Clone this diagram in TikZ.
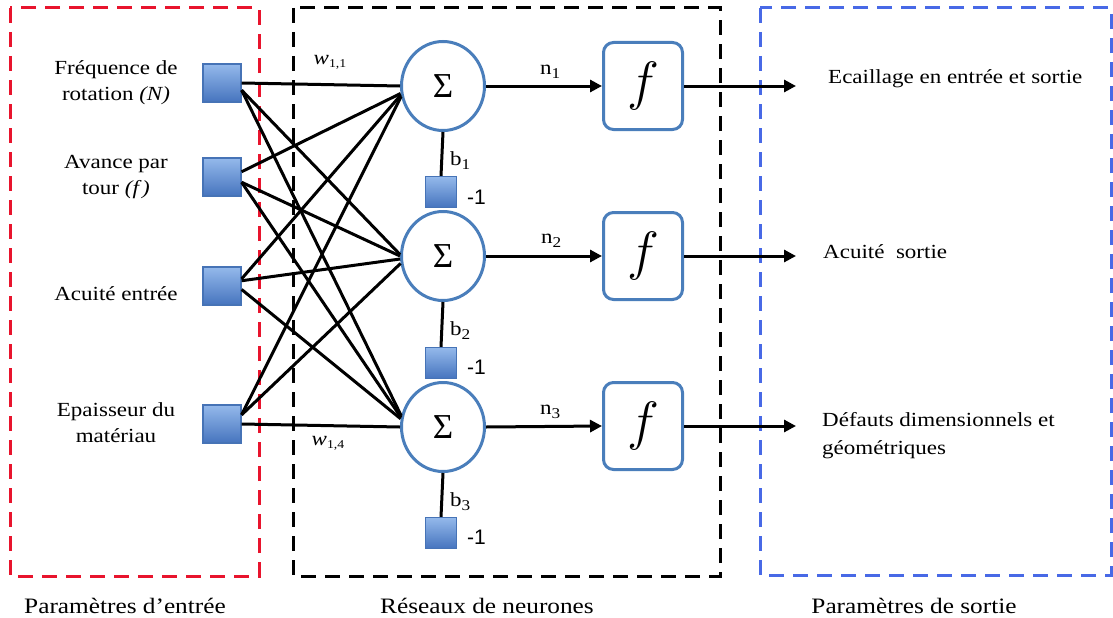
\RequirePackage{fix-cm}
\documentclass[tikz,border=0pt]{standalone}
\usepackage{fontspec}
\setmainfont{Liberation Serif}[FakeStretch=1.15]
\newfontfamily\sansf{Liberation Sans}
\newfontfamily\sigf{Liberation Serif}
\usetikzlibrary{shapes.geometric,arrows.meta}
\definecolor{nblue}{RGB}{74,126,187}
\definecolor{sqtop}{RGB}{148,185,235}
\definecolor{sqbot}{RGB}{70,116,190}
\definecolor{sqborder}{RGB}{70,115,182}
\definecolor{dred}{RGB}{232,20,45}
\definecolor{dblue}{RGB}{72,105,230}
\tikzset{
  boxdash/.style={line width=3pt, dash pattern=on 15pt off 9pt},
  insq/.style={rectangle, draw=sqborder, line width=1.2pt, top color=sqtop, bottom color=sqbot, minimum size=38pt, inner sep=0pt},
  bsq/.style={rectangle, draw=sqborder, line width=1.2pt, top color=sqtop, bottom color=sqbot, minimum size=31pt, inner sep=0pt},
  sumnode/.style={ellipse, draw=nblue, line width=3pt, fill=white, minimum width=83pt, minimum height=89pt, inner sep=0pt},
  fnode/.style={rectangle, rounded corners=10pt, draw=nblue, line width=3pt, fill=white, minimum width=79pt, minimum height=87pt, inner sep=0pt},
  wire/.style={line width=3pt, black},
  arr/.style={wire, -{Triangle[length=12pt,width=12pt]}},
  lbl/.style={font=\fontsize{20}{26}\selectfont, align=center, inner sep=0pt},
  olbl/.style={font=\fontsize{20}{28}\selectfont, align=left, anchor=west, inner sep=0pt},
  blbl/.style={font=\fontsize{22}{26}\selectfont, inner sep=0pt},
  sublbl/.style={font=\fontsize{20}{20}\selectfont, inner sep=0pt, anchor=west},
  mone/.style={font=\sansf\fontsize{21}{21}\selectfont, inner sep=0pt, anchor=west}
}
\newcommand{\bigsig}{\sigf\fontsize{35}{35}\selectfont Σ}
\newcommand{\bigf}{\fontsize{54}{54}\selectfont$f$}
\begin{document}
\begin{tikzpicture}[x=1pt,y=-1pt]
\useasboundingbox (0,0) rectangle (1113,618);
% dashed group boxes
\draw[dred, boxdash] (10,8) rectangle (259,576);
\draw[black, boxdash] (293,8) rectangle (720,576);
\draw[dblue, boxdash] (760,8) rectangle (1111,575);

% input squares
\node[insq] (s1) at (222,83) {};
\node[insq] (s2) at (222,177) {};
\node[insq] (s3) at (222,286) {};
\node[insq] (s4) at (222,424) {};

% summation nodes
\node[sumnode] (c1) at (443,86) {\bigsig};
\node[sumnode] (c2) at (443,256) {\bigsig};
\node[sumnode] (c3) at (443,427) {\bigsig};

% bias squares
\node[bsq] (b1) at (441,192) {};
\node[bsq] (b2) at (441,363) {};
\node[bsq] (b3) at (441,533) {};

% activation boxes
\node[fnode] (f1) at (643,86) {\bigf};
\node[fnode] (f2) at (643,256) {\bigf};
\node[fnode] (f3) at (643,426) {\bigf};

% outputs
\coordinate (o1) at (796,86);
\coordinate (o2) at (796,256);
\coordinate (o3) at (796,426);

% input labels
\node[lbl] (t1) at (116,83) {Fréquence de\\rotation \textit{(N)}};
\node[lbl] (t2) at (116,177) {Avance par\\tour \textit{(f\,)}};
\node[lbl] (t3) at (116,294) {Acuité entrée};
\node[lbl] (t4) at (116,423) {Epaisseur du\\matériau};

% output labels
\node[olbl] (u1) at (828,79) {Ecaillage en entrée et sortie};
\node[olbl] (u2) at (823,252) {Acuité\ \ sortie};
\node[olbl] (u3) at (822,436) {Défauts dimensionnels et\\géométriques};

% bottom labels
\node[blbl] (g1) at (125,606) {Paramètres d’entrée};
\node[blbl] (g2) at (487,606) {Réseaux de neurones};
\node[blbl] (g3) at (914,606) {Paramètres de sortie};

% weights labels
\node[inner sep=0pt] (w11) at (330,62) {\fontsize{20}{20}\selectfont\textit{w}\raisebox{-3pt}{\fontsize{12}{12}\selectfont 1,1}};
\node[inner sep=0pt] (w14) at (328,443) {\fontsize{20}{20}\selectfont\textit{w}\raisebox{-3pt}{\fontsize{12}{12}\selectfont 1,4}};

% connections input -> sum
\draw[wire] (s1.east) -- (c1.west);
\draw[wire] (s2.15) -- (c1.190);
\draw[wire] (s3.20) -- (c1.192);
\draw[wire] (s4.25) -- (c1.194);

\draw[wire] (s1.-20) -- (c2.178);
\draw[wire] (s2.-15) -- (c2.180);
\draw[wire] (s3.15) -- (c2.184);
\draw[wire] (s4.25) -- (c2.190);

\draw[wire] (s1.-20) -- (c3.165);
\draw[wire] (s2.-15) -- (c3.167);
\draw[wire] (s3.-10) -- (c3.169);
\draw[wire] (s4.east) -- (c3.west);

% bias connections
\draw[wire] (c1.south) -- (b1.north);
\draw[wire] (c2.south) -- (b2.north);
\draw[wire] (c3.south) -- (b3.north);

% bias labels
\node[sublbl] (lb1) at (450,161) {b\raisebox{-4pt}{\fontsize{15}{15}\selectfont 1}};
\node[sublbl] (lb2) at (450,331) {b\raisebox{-4pt}{\fontsize{15}{15}\selectfont 2}};
\node[sublbl] (lb3) at (450,502) {b\raisebox{-4pt}{\fontsize{15}{15}\selectfont 3}};
\node[mone] (m1) at (467,197) {-1};
\node[mone] (m2) at (467,367) {-1};
\node[mone] (m3) at (467,537) {-1};

% sum -> f
\draw[arr] (c1.east) -- (f1.west);
\draw[arr] (c2.east) -- (f2.west);
\draw[arr] (c3.east) -- (f3.west);
\node[sublbl] (n1) at (540,72) {n\raisebox{-4pt}{\fontsize{15}{15}\selectfont 1}};
\node[sublbl] (n2) at (541,241) {n\raisebox{-4pt}{\fontsize{15}{15}\selectfont 2}};
\node[sublbl] (n3) at (540,412) {n\raisebox{-4pt}{\fontsize{15}{15}\selectfont 3}};

% f -> outputs
\draw[arr] (f1.east) -- (o1);
\draw[arr] (f2.east) -- (o2);
\draw[arr] (f3.east) -- (o3);
\end{tikzpicture}
\end{document}
